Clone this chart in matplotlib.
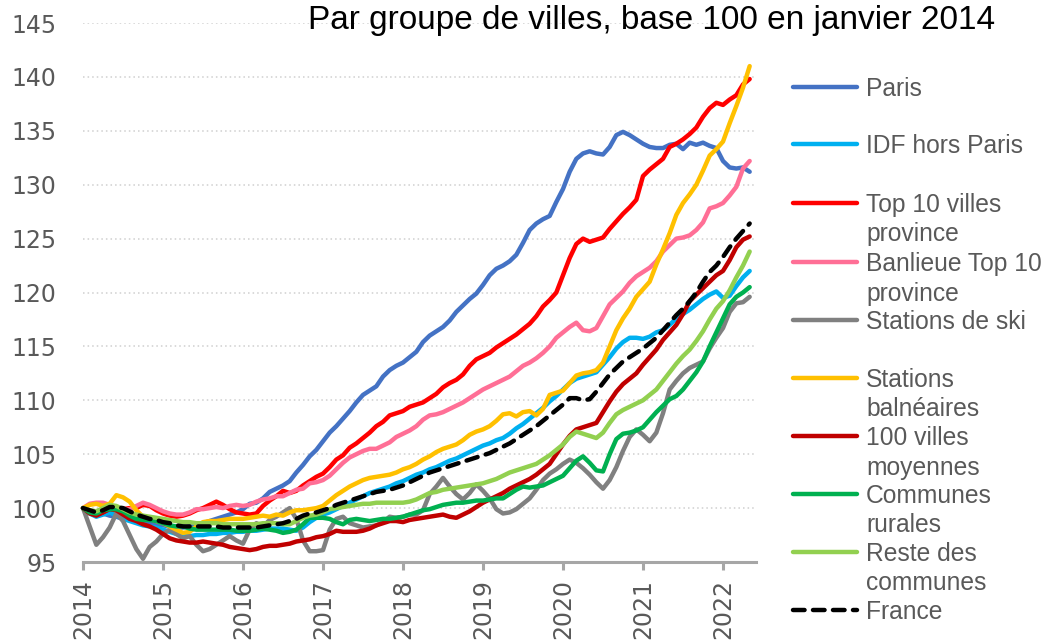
import numpy as np
import matplotlib
matplotlib.use("Agg")
import matplotlib.pyplot as plt
from matplotlib.lines import Line2D

# --- 1. DATA (monthly index, base 100 = Jan 2014, last point May 2022) ---
years = [2014, 2015, 2016, 2017, 2018, 2019, 2020, 2021, 2022]

paris = [100, 99.6, 99.4, 99.5, 99.3, 99.2, 99.0, 98.9, 98.8, 98.7, 98.6, 98.5,
         98.4, 98.3, 98.2, 98.2, 98.3, 98.4, 98.6, 98.8, 99.0, 99.2, 99.4, 99.6,
         99.9, 100.4, 100.5, 100.9, 101.5, 101.8, 102.1, 102.5, 103.3, 104.0, 104.8, 105.4,
         106.2, 107.0, 107.6, 108.3, 109.0, 109.8, 110.5, 110.9, 111.3, 112.2, 112.8, 113.2,
         113.5, 114.0, 114.5, 115.4, 116.0, 116.4, 116.8, 117.4, 118.2, 118.8, 119.4, 119.9,
         120.7, 121.6, 122.2, 122.5, 122.9, 123.5, 124.6, 125.8, 126.4, 126.8, 127.1, 128.4,
         129.6, 131.2, 132.4, 132.9, 133.1, 132.9, 132.8, 133.5, 134.6, 134.9, 134.6, 134.2,
         133.8, 133.5, 133.4, 133.4, 133.7, 133.8, 133.3, 133.9, 133.7, 133.9, 133.6, 133.4,
         132.2, 131.6, 131.5, 131.6, 131.2]

idf = [100, 99.5, 99.2, 99.4, 99.6, 99.3, 99.0, 98.8, 98.6, 98.4, 98.3, 98.2,
       98.0, 97.8, 97.6, 97.5, 97.4, 97.5, 97.5, 97.6, 97.6, 97.7, 97.7, 97.8,
       97.8, 97.9, 97.9, 98.0, 98.1, 98.1, 98.1, 98.0, 97.9, 98.2, 98.7, 99.1,
       99.4, 99.6, 99.9, 100.2, 100.5, 100.8, 101.1, 101.4, 101.6, 101.8, 102.0, 102.3,
       102.5, 102.8, 103.1, 103.3, 103.6, 103.8, 104.1, 104.4, 104.6, 104.9, 105.2, 105.5,
       105.8, 106.0, 106.3, 106.5, 106.9, 107.4, 107.8, 108.3, 108.8, 109.3, 109.9, 110.4,
       111.0, 111.6, 112.0, 112.2, 112.4, 112.6, 113.3, 114.0, 114.8, 115.4, 115.8, 115.8,
       115.7, 115.9, 116.3, 116.5, 117.0, 117.6, 118.0, 118.4, 118.9, 119.4, 119.8, 120.1,
       119.5, 119.7, 120.6, 121.4, 122.0]

top10 = [100, 99.7, 99.4, 99.6, 100.0, 99.8, 99.9, 100.0, 100.0, 100.3, 100.2, 99.8,
         99.5, 99.3, 99.2, 99.3, 99.5, 99.8, 100.0, 100.3, 100.6, 100.3, 99.9, 99.6,
         99.5, 99.4, 99.5, 100.2, 100.7, 101.1, 101.6, 101.4, 101.6, 102.1, 102.5, 102.9,
         103.2, 103.8, 104.5, 104.9, 105.6, 106.0, 106.5, 107.0, 107.6, 108.0, 108.6, 108.8,
         109.0, 109.4, 109.6, 109.8, 110.2, 110.6, 111.2, 111.6, 111.9, 112.4, 113.2, 113.8,
         114.1, 114.4, 114.9, 115.3, 115.7, 116.1, 116.6, 117.1, 117.8, 118.7, 119.3, 120.0,
         121.6, 123.2, 124.5, 125.0, 124.7, 124.9, 125.1, 125.9, 126.6, 127.3, 127.9, 128.6,
         130.8, 131.4, 131.9, 132.4, 133.5, 133.8, 134.2, 134.7, 135.3, 136.3, 137.1, 137.6,
         137.4, 137.9, 138.3, 139.3, 139.8]

banlieue = [100, 100.4, 100.5, 100.5, 100.3, 100.0, 99.8, 99.9, 100.2, 100.5, 100.3, 100.0,
            99.7, 99.5, 99.4, 99.4, 99.6, 99.9, 99.9, 100.0, 100.1, 100.0, 100.2, 100.3,
            100.2, 100.3, 100.6, 100.8, 100.9, 101.1, 101.1, 101.4, 101.7, 101.8, 102.3, 102.4,
            102.6, 103.0, 103.6, 104.2, 104.7, 105.0, 105.3, 105.5, 105.5, 105.8, 106.1, 106.6,
            106.9, 107.2, 107.6, 108.2, 108.6, 108.7, 108.9, 109.2, 109.5, 109.8, 110.2, 110.6,
            111.0, 111.3, 111.6, 111.9, 112.2, 112.7, 113.2, 113.5, 113.9, 114.4, 115.0, 115.8,
            116.3, 116.8, 117.2, 116.5, 116.4, 116.7, 117.8, 118.9, 119.5, 120.1, 120.9, 121.5,
            121.9, 122.3, 122.9, 123.8, 124.4, 125.0, 125.1, 125.3, 125.8, 126.5, 127.8, 128.0,
            128.3, 129.0, 129.8, 131.5, 132.2]

ski = [100, 98.3, 96.6, 97.3, 98.2, 99.5, 98.8, 97.5, 96.2, 95.3, 96.4, 96.9,
       97.6, 98.0, 97.6, 97.2, 97.4, 96.6, 96.0, 96.2, 96.6, 97.0, 97.4, 97.0,
       96.7, 98.0, 98.6, 98.3, 98.9, 99.2, 99.6, 100.0, 99.0, 97.0, 96.0, 96.0,
       96.1, 98.0, 99.0, 99.2, 98.6, 98.4, 98.2, 98.3, 98.4, 98.7, 99.2, 99.1,
       99.2, 99.4, 99.4, 99.8, 101.3, 102.0, 102.8, 102.0, 101.3, 100.8, 101.4, 102.2,
       101.6, 100.9, 99.9, 99.5, 99.6, 99.9, 100.4, 100.9, 101.7, 102.6, 103.2, 103.6,
       104.1, 104.5, 104.2, 103.7, 103.1, 102.4, 101.8, 102.6, 103.8, 105.3, 106.6, 107.3,
       106.8, 106.2, 107.0, 108.8, 111.0, 111.8, 112.5, 113.0, 113.3, 113.6, 114.8, 115.8,
       116.7, 118.2, 119.0, 119.1, 119.6]

balneaires = [100, 100.3, 100.4, 100.2, 100.4, 101.2, 101.0, 100.6, 99.8, 99.2, 99.0, 98.8,
              98.6, 98.3, 98.0, 97.7, 97.8, 98.3, 98.7, 98.8, 98.8, 98.9, 99.0, 99.0,
              99.0, 99.1, 99.2, 99.3, 99.2, 99.4, 99.3, 99.6, 99.8, 99.8, 99.9, 100.0,
              100.2, 100.7, 101.2, 101.6, 102.0, 102.3, 102.6, 102.8, 102.9, 103.0, 103.1, 103.3,
              103.6, 103.8, 104.1, 104.5, 104.8, 105.2, 105.5, 105.7, 105.9, 106.3, 106.8, 107.1,
              107.3, 107.6, 108.1, 108.7, 108.8, 108.5, 108.9, 109.0, 108.6, 109.2, 110.5, 110.7,
              110.9, 111.6, 112.3, 112.5, 112.6, 112.8, 113.5, 115.0, 116.5, 117.6, 118.5, 119.6,
              120.3, 121.0, 122.6, 124.0, 125.5, 127.2, 128.3, 129.1, 130.0, 131.3, 132.7, 133.3,
              134.0, 135.7, 137.3, 139.0, 141.0]

moyennes = [100, 99.5, 99.3, 99.6, 99.9, 99.8, 99.4, 99.0, 98.8, 98.5, 98.3, 98.0,
            97.6, 97.2, 97.0, 96.9, 96.8, 96.8, 96.9, 96.8, 96.7, 96.6, 96.4, 96.3,
            96.2, 96.1, 96.2, 96.4, 96.5, 96.5, 96.6, 96.7, 96.9, 97.0, 97.1, 97.3,
            97.4, 97.6, 97.9, 97.8, 97.8, 97.8, 97.9, 98.1, 98.4, 98.6, 98.8, 98.8,
            98.7, 98.9, 99.0, 99.1, 99.2, 99.3, 99.4, 99.2, 99.1, 99.4, 99.7, 100.1,
            100.5, 100.8, 101.1, 101.4, 101.8, 102.1, 102.4, 102.7, 103.1, 103.6, 104.1, 105.0,
            105.9, 106.7, 107.3, 107.5, 107.7, 107.9, 108.9, 109.9, 110.8, 111.5, 112.0, 112.5,
            113.3, 114.0, 114.7, 115.6, 116.3, 117.0, 118.0, 119.2, 119.8, 120.4, 121.0, 121.6,
            122.0, 123.0, 124.2, 124.9, 125.2]

rurales = [100, 99.6, 99.5, 99.8, 99.9, 99.9, 99.7, 99.3, 99.0, 98.9, 98.9, 98.8,
           98.6, 98.4, 98.3, 98.3, 98.1, 98.0, 98.0, 98.0, 98.0, 98.0, 98.0, 97.9,
           97.9, 97.9, 98.0, 98.1, 98.0, 97.9, 97.7, 97.8, 98.0, 98.5, 99.1, 99.1,
           99.1, 99.0, 98.7, 98.5, 98.9, 99.0, 98.9, 98.8, 98.9, 99.0, 99.0, 99.1,
           99.2, 99.4, 99.6, 99.8, 99.9, 100.1, 100.3, 100.4, 100.5, 100.5, 100.6, 100.7,
           100.7, 100.8, 100.9, 100.9, 101.3, 101.7, 102.0, 101.9, 102.0, 102.1, 102.4, 102.7,
           103.0, 103.7, 104.4, 104.8, 104.2, 103.5, 103.4, 105.0, 106.4, 106.9, 107.0, 107.2,
           107.5, 108.2, 108.9, 109.5, 110.1, 110.4, 111.0, 111.8, 112.6, 113.6, 115.0, 116.3,
           117.6, 118.9, 119.6, 120.0, 120.5]

reste = [100, 99.8, 99.7, 100.0, 100.3, 100.2, 99.9, 99.6, 99.4, 99.3, 99.2, 99.1,
         99.0, 98.9, 98.8, 98.7, 98.7, 98.6, 98.6, 98.6, 98.6, 98.5, 98.5, 98.5,
         98.5, 98.5, 98.5, 98.6, 98.6, 98.6, 98.5, 98.5, 98.8, 99.1, 99.3, 99.4,
         99.6, 99.9, 100.0, 100.1, 100.2, 100.3, 100.4, 100.4, 100.5, 100.5, 100.5, 100.5,
         100.5, 100.6, 100.8, 101.1, 101.4, 101.5, 101.7, 101.8, 101.9, 102.0, 102.1, 102.2,
         102.3, 102.5, 102.7, 103.0, 103.3, 103.5, 103.7, 103.9, 104.1, 104.5, 104.9, 105.4,
         105.9, 106.6, 107.1, 106.9, 106.7, 106.5, 107.0, 107.9, 108.7, 109.1, 109.4, 109.7,
         110.0, 110.5, 111.0, 111.8, 112.6, 113.4, 114.1, 114.7, 115.5, 116.4, 117.5, 118.5,
         119.2, 120.2, 121.4, 122.5, 123.8]

france = [100, 99.8, 99.6, 99.8, 100.1, 100.1, 100.0, 99.7, 99.4, 99.2, 99.0, 98.9,
          98.7, 98.6, 98.4, 98.3, 98.3, 98.3, 98.3, 98.3, 98.3, 98.2, 98.2, 98.2,
          98.2, 98.2, 98.2, 98.3, 98.4, 98.5, 98.6, 98.8, 99.0, 99.3, 99.5, 99.6,
          99.8, 100.0, 100.3, 100.5, 100.7, 100.9, 101.1, 101.3, 101.5, 101.6, 101.7, 101.9,
          102.1, 102.4, 102.7, 103.0, 103.3, 103.5, 103.7, 103.9, 104.1, 104.3, 104.5, 104.7,
          104.9, 105.1, 105.4, 105.7, 106.0, 106.4, 106.8, 107.2, 107.6, 108.1, 108.6, 109.1,
          109.6, 110.2, 110.2, 110.0, 110.1, 110.8, 111.6, 112.4, 113.0, 113.6, 114.0, 114.4,
          114.8, 115.3, 115.8, 116.5, 117.2, 117.9, 118.5, 119.2, 120.0, 121.0, 121.9, 122.5,
          123.3, 124.2, 125.0, 125.7, 126.4]

labels = ["Paris", "IDF hors Paris", "Top 10 villes\nprovince", "Banlieue Top 10\nprovince",
          "Stations de ski", "Stations\nbalnéaires", "100 villes\nmoyennes",
          "Communes\nrurales", "Reste des\ncommunes", "France"]
series = [paris, idf, top10, banlieue, ski, balneaires, moyennes, rurales, reste, france]
colors = ["#4472C4", "#00B0F0", "#FF0000", "#FF6F96", "#808080",
          "#FFC000", "#C00000", "#00B050", "#92D050", "#000000"]

# --- 2. FIGURE SETUP ---
W, H = 1054, 643
fig = plt.figure(figsize=(W / 100, H / 100), dpi=100)
ax = fig.add_axes([83 / W, (H - 562) / H, 673 / W, 539 / H])

def fx(px):
    return px / W

def fy(py):
    return 1 - py / H

LW = 3.2
DASH = (2.6, 1.9)

months = np.arange(len(paris))
for s, c, lab in zip(series, colors, labels):
    kw = dict(color=c, linewidth=LW, solid_capstyle="round", solid_joinstyle="round",
              dash_capstyle="round", clip_on=False)
    if lab == "France":
        ax.plot(months, s, linestyle=(0, DASH), **kw)
    else:
        ax.plot(months, s, **kw)

# --- 3. AXES FORMATTING ---
ax.set_xlim(0, 673 / (80 / 12))
ax.set_ylim(95, 145)
ax.set_yticks(np.arange(95, 146, 5))
ax.set_xticks([12 * k for k in range(len(years))])
ax.set_xticklabels([str(y) for y in years], rotation=90)

for sp in ["left", "right", "top"]:
    ax.spines[sp].set_visible(False)
ax.spines["bottom"].set_color("#A6A6A6")
ax.spines["bottom"].set_linewidth(2.2)

ax.tick_params(axis="y", length=0, pad=19, labelsize=17, labelcolor="#595959")
ax.tick_params(axis="x", direction="out", length=6, width=2.2, color="#A6A6A6",
               pad=6, labelsize=17, labelcolor="#595959")
for t in ax.get_xticklabels() + ax.get_yticklabels():
    t.set_fontfamily("DejaVu Sans")

ax.grid(axis="y", color="#D0D0D0", linestyle=(0, (1, 2)), linewidth=1.1)
ax.grid(axis="x", visible=False)
ax.set_axisbelow(True)

# title
fig.text(fx(308), fy(29), "Par groupe de villes, base 100 en janvier 2014",
         fontsize=24, fontfamily="Liberation Sans", color="black", va="baseline", ha="left")

# --- 4. LEGEND (drawn on the right, Excel style) ---
leg_y = [87, 144, 203, 262, 320, 378, 436, 494, 552, 610]
for lab, c, yy in zip(labels, colors, leg_y):
    ls = (0, DASH) if lab == "France" else "-"
    fig.add_artist(Line2D([fx(793), fx(857)], [fy(yy), fy(yy)], color=c, linewidth=LW,
                          linestyle=ls, solid_capstyle="round", dash_capstyle="round"))
    for k, part in enumerate(lab.split("\n")):
        fig.text(fx(866), fy(yy + 9 + 29.5 * k), part, fontsize=17.7,
                 fontfamily="Liberation Sans", color="#595959", va="baseline", ha="left")

fig.savefig("out.png", dpi=100)
